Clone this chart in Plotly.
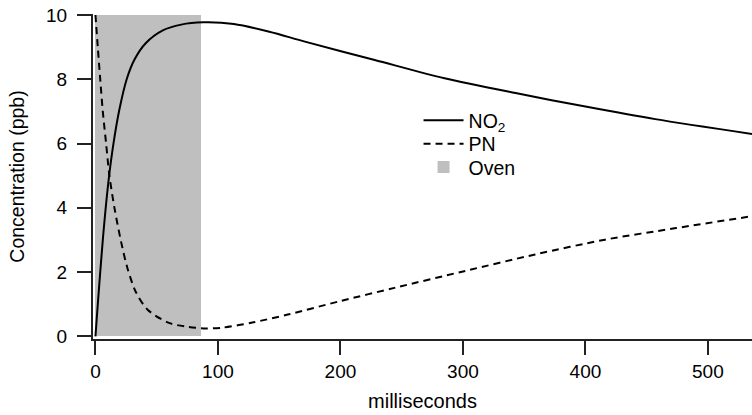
import plotly.graph_objects as go

# Data
no2_t = [0, 2, 4, 6, 8, 11, 14.7, 19.5, 25.5, 32, 41, 55, 70, 88, 113, 142, 171, 228, 285, 343, 400, 457, 536]
no2_v = [0, 1.05, 2.05, 3.0, 3.85, 4.95, 6.0, 7.05, 8.0, 8.62, 9.12, 9.52, 9.70, 9.77, 9.72, 9.48, 9.17, 8.60, 8.03, 7.57, 7.15, 6.76, 6.30]

pn_t = [0, 2, 4, 6, 8.7, 11.4, 15.5, 20.9, 26.3, 33, 42.6, 60, 75, 90, 103, 129, 157, 200, 244, 301, 359, 416, 474, 536]
pn_v = [10, 8.95, 7.95, 7.0, 6.0, 5.0, 4.0, 2.95, 2.1, 1.38, 0.83, 0.42, 0.30, 0.25, 0.27, 0.44, 0.68, 1.10, 1.51, 2.03, 2.55, 3.01, 3.37, 3.74]

oven_start = [0]
oven_end = [86]
oven_level = [10]

x_ticks = [0, 100, 200, 300, 400, 500]
y_ticks = [0, 2, 4, 6, 8, 10]

FONT = "Liberation Sans, Arial, sans-serif"
AX = "#222222"

fig = go.Figure()
fig.add_trace(go.Bar(
    x=[(s + e) / 2 for s, e in zip(oven_start, oven_end)],
    width=[e - s for s, e in zip(oven_start, oven_end)],
    y=oven_level, base=0,
    marker=dict(color="#bfbfbf", line=dict(width=0)),
    name="Oven", legend="legend3", hoverinfo="skip"))
fig.add_trace(go.Scatter(
    x=no2_t, y=no2_v, mode="lines", name="NO<sub>2</sub>",
    line=dict(color="black", width=2, shape="spline", smoothing=0.8),
    legend="legend"))
fig.add_trace(go.Scatter(
    x=pn_t, y=pn_v, mode="lines", name="PN",
    line=dict(color="black", width=2, dash="7px,5px", shape="spline", smoothing=0.8),
    legend="legend2"))

leg_common = dict(xanchor="left", yanchor="top", bgcolor="rgba(0,0,0,0)",
                  font=dict(size=19.5, family=FONT, color="black"), itemwidth=40,
                  borderwidth=0)

fig.update_layout(
    width=752, height=415,
    margin=dict(l=93, r=0, t=14, b=76, autoexpand=False),
    paper_bgcolor="white", plot_bgcolor="white",
    font=dict(family=FONT, size=19, color="black"),
    showlegend=True,
    bargap=0,
    legend=dict(x=0.494, y=0.732, **leg_common),
    legend2=dict(x=0.494, y=0.660, **leg_common),
    legend3=dict(x=0.494, y=0.588, **leg_common),
    xaxis=dict(range=[-2.0, 536.0], tickvals=x_ticks, ticktext=[str(v) for v in x_ticks],
               showgrid=False, zeroline=False, showline=True, linecolor=AX, linewidth=2,
               ticks="outside", ticklen=14, tickwidth=2, tickcolor=AX,
               tickfont=dict(size=19),
               title=dict(text="milliseconds", font=dict(size=20), standoff=13),
               automargin=False),
    yaxis=dict(range=[-0.08, 10.03], tickvals=y_ticks, ticktext=[str(v) for v in y_ticks],
               showgrid=False, zeroline=False, showline=True, linecolor=AX, linewidth=2,
               ticks="outside", ticklen=14, tickwidth=2, tickcolor=AX,
               tickfont=dict(size=19), ticklabelstandoff=6,
               title=dict(text="Concentration (ppb)", font=dict(size=19.5), standoff=16),
               automargin=False),
)

fig.write_html("out.html", config={"displayModeBar": False},
               post_script="document.body.style.margin='0';")
